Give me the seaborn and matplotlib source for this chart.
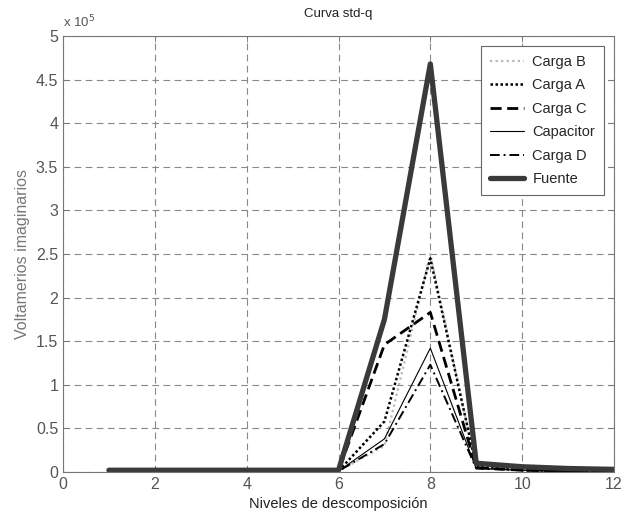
import matplotlib
matplotlib.use("Agg")
import matplotlib.pyplot as plt
from matplotlib.ticker import FuncFormatter, MultipleLocator
import seaborn as sns
import pandas as pd

# Decomposition levels and reactive power per branch (VAr)
niveles = [1, 2, 3, 4, 5, 6, 7, 8, 9, 10, 11, 12]
carga_b = [1000, 1000, 1000, 1000, 1000, 1000, 30000, 250000, 5000, 2000, 1000, 1000]
carga_a = [1000, 1000, 1000, 1000, 1000, 1000, 58000, 245000, 6000, 2000, 1000, 1000]
carga_c = [1000, 1000, 1000, 1000, 1000, 1000, 146000, 183000, 5000, 2000, 1000, 1000]
capacitor = [1000, 1000, 1000, 1000, 1000, 1000, 38000, 142000, 4000, 2000, 1000, 1000]
carga_d = [1000, 1000, 1000, 1000, 1000, 1000, 32000, 123000, 4000, 2000, 1000, 1000]
fuente = [2000, 2000, 2000, 2000, 2000, 2000, 175000, 468000, 10000, 6000, 4000, 3000]

series = {
    "Carga B": carga_b,
    "Carga A": carga_a,
    "Carga C": carga_c,
    "Capacitor": capacitor,
    "Carga D": carga_d,
    "Fuente": fuente,
}
styles = {
    "Carga B": dict(color="#b8b8b8", linestyle=(0, (1, 1.5)), linewidth=1.6),
    "Carga A": dict(color="black", linestyle=(0, (1, 1)), linewidth=1.8),
    "Carga C": dict(color="black", linestyle=(0, (4, 2)), linewidth=2.0),
    "Capacitor": dict(color="black", linestyle="-", linewidth=0.8),
    "Carga D": dict(color="black", linestyle=(0, (5, 2, 1, 2)), linewidth=1.4),
    "Fuente": dict(color="#3a3a3a", linestyle="-", linewidth=3.8),
}

sns.set_theme(style="white")
plt.rcParams["font.family"] = ["Liberation Sans", "DejaVu Sans"]

fig = plt.figure(figsize=(6.25, 5.16), dpi=100)
ax = fig.add_axes([0.1008, 0.0853, 0.8816, 0.8449])

df = pd.DataFrame({"nivel": niveles})
for name, vals in series.items():
    df[name] = vals
    sns.lineplot(data=df, x="nivel", y=name, ax=ax, label=name, **styles[name])

ax.set_xlim(0, 12)
ax.set_ylim(0, 500000)
ax.xaxis.set_major_locator(MultipleLocator(2))
ax.yaxis.set_major_locator(MultipleLocator(50000))
ax.yaxis.set_major_formatter(FuncFormatter(lambda v, p: f"{v / 1e5:g}"))

ax.grid(True, color="#888888", linestyle=(0, (6, 4)), linewidth=0.8)
ax.set_axisbelow(True)
for s in ax.spines.values():
    s.set_visible(True)
    s.set_color("#777777")
    s.set_linewidth(0.8)
ax.tick_params(direction="in", length=4, width=0.6, colors="#777777",
               labelcolor="#555555", labelsize=11.5,
               top=True, right=True, bottom=True, left=True)

ax.set_xlabel("Niveles de descomposición", fontsize=10.5, color="#222222", labelpad=4)
ax.set_ylabel("Voltamerios imaginarios", fontsize=11.5, color="#777777", labelpad=4)
ax.set_title("Curva std-q", fontsize=9.5, color="#222222", pad=14)
ax.text(0.0, 1.012, r"x 10$^5$", transform=ax.transAxes, fontsize=9.5,
        color="#555555", ha="left", va="bottom")

leg = ax.legend(loc="upper right", fontsize=10.5, frameon=True, fancybox=False,
                edgecolor="#666666", framealpha=1, borderaxespad=0.7,
                handlelength=2.3, handletextpad=0.6, labelspacing=0.65,
                borderpad=0.6)
leg.get_frame().set_linewidth(0.8)

fig.savefig("out.png", dpi=100)
